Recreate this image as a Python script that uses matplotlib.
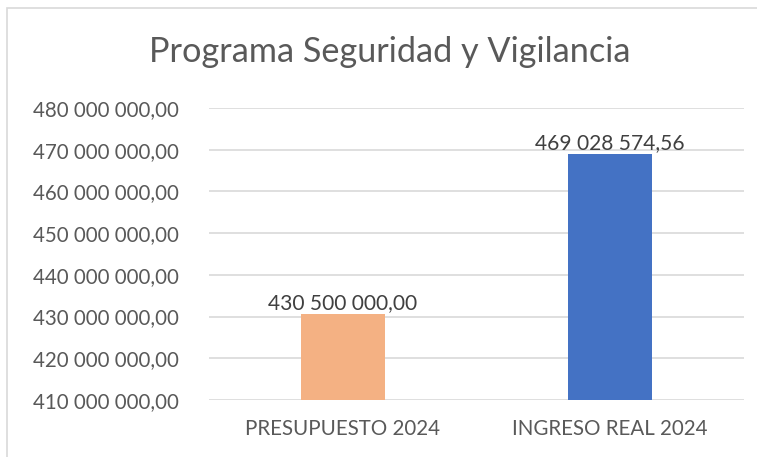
import matplotlib
matplotlib.use("Agg")
import matplotlib.pyplot as plt
from matplotlib.patches import Rectangle
from matplotlib.ticker import FuncFormatter

categories = ["PRESUPUESTO 2024", "INGRESO REAL 2024"]
values = [430500000.00, 469028574.56]
colors = ["#F4B183", "#4472C4"]
title = "Programa Seguridad y Vigilancia"
y_min, y_max, y_step = 410000000, 480000000, 10000000

def fmt(v):
    s = f"{v:,.2f}"
    ip, dp = s.split(".")
    return ip.replace(",", " ") + "," + dp

W, H = 757, 457
fig = plt.figure(figsize=(W / 100, H / 100), dpi=100)
plt.rcParams['font.family'] = ['Lato', 'DejaVu Sans']

fig.patches.append(Rectangle((7 / W, -0.1), 1.2, 1 - 8 / H + 0.1, transform=fig.transFigure,
                             fill=False, edgecolor="#D9D9D9", linewidth=1.2))

ax = fig.add_axes([209 / W, 1 - 400 / H, (744 - 209) / W, (400 - 108) / H])
x = list(range(len(categories)))
bars = ax.bar(x, [v - y_min for v in values], bottom=y_min, width=0.315, color=colors, zorder=3)
ax.set_xlim(-0.5, len(categories) - 0.5)
ax.set_ylim(y_min, y_max)
ax.set_yticks(list(range(y_min, y_max + 1, y_step)))
ax.yaxis.set_major_formatter(FuncFormatter(lambda v, p: fmt(v)))
ax.set_xticks(x)
ax.set_xticklabels(categories)
ax.tick_params(axis="both", length=0, colors="#595959", labelsize=14.8)
ax.tick_params(axis="y", pad=22)
ax.tick_params(axis="x", pad=14)
ax.grid(axis="y", color="#D9D9D9", linewidth=1.2, zorder=0)
for s in ax.spines.values():
    s.set_visible(False)
ax.set_facecolor("none")

for xi, v in zip(x, values):
    ax.text(xi, v + 0.25e6, fmt(v), ha="center", va="bottom", fontsize=15.1, color="#404040", zorder=4)

fig.text((148 + 632) / 2 / W, 1 - 52 / H, title, ha="center", va="center", fontsize=24.7, color="#595959")

fig.savefig("out.png", dpi=100)
